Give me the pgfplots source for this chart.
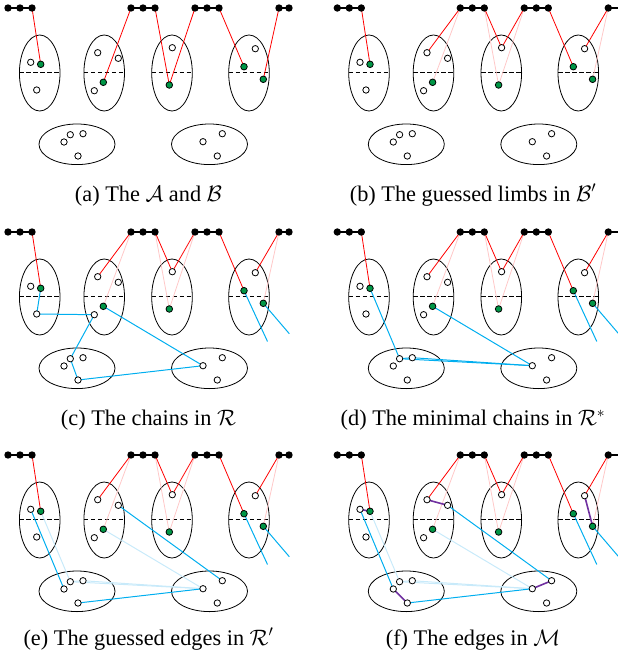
\RequirePackage{fix-cm}
\documentclass[border=0pt]{standalone}
\usepackage{fontspec}
\setmainfont{Liberation Serif}
\usepackage{pgfplots}
\pgfplotsset{compat=1.18}

\definecolor{redl}{RGB}{255,0,0}
\definecolor{redf}{RGB}{255,200,200}
\definecolor{bluel}{RGB}{0,174,239}
\definecolor{bluef}{RGB}{200,234,250}
\definecolor{purp}{RGB}{112,48,160}
\definecolor{grn}{RGB}{0,150,70}

% ellipse shaped marks (vertical groups and bottom groups)
\pgfdeclareplotmark{vell}{\pgfpathellipse{\pgfpointorigin}{\pgfqpoint{20.3bp}{0pt}}{\pgfqpoint{0pt}{38bp}}\pgfusepathqstroke}
\pgfdeclareplotmark{hell}{\pgfpathellipse{\pgfpointorigin}{\pgfqpoint{38bp}{0pt}}{\pgfqpoint{0pt}{20.3bp}}\pgfusepathqstroke}

\pgfplotsset{
  off/.style 2 args={x filter/.expression={x+#1}, y filter/.expression={y+#2}},
  rl/.style={redl, line width=0.8},
  rf/.style={redf, line width=0.8},
  bl/.style={bluel, line width=1},
  bf/.style={bluef, line width=1},
  pl/.style={purp, line width=1.6},
  dl/.style={black, line width=0.9, dash pattern=on 4.5bp off 2.5bp},
}

\newcommand{\ellipses}[1]{%
  \addplot[only marks, mark=vell, mark options={black, line width=0.8}, #1] coordinates {(39.7,73) (104.2,73) (172,73) (249,73)};
  \addplot[only marks, mark=hell, mark options={black, line width=0.8}, #1] coordinates {(77,144.3) (209.5,144.3)};
  \addplot[dl, #1] coordinates {(19.4,72.7) (60,72.7)};
  \addplot[dl, #1] coordinates {(83.9,72.7) (124.5,72.7)};
  \addplot[dl, #1] coordinates {(151.7,72.7) (192.3,72.7)};
  \addplot[dl, #1] coordinates {(228.7,72.7) (269.3,72.7)};
}
\newcommand{\redA}[1]{%
  \addplot[rl, #1] coordinates {(32,8) (40.7,64.3)};
  \addplot[rl, #1] coordinates {(131,8) (103.3,82.3)};
  \addplot[rl, #1] coordinates {(155,8) (169.3,85) (195,8)};
  \addplot[rl, #1] coordinates {(219,8) (244,66.7)};
  \addplot[rl, #1] coordinates {(279,8) (263.3,79.3)};
}
\newcommand{\redB}[1]{%
  \addplot[rf, #1] coordinates {(131,8) (103.3,82.3)};
  \addplot[rf, #1] coordinates {(155,8) (169.3,85) (195,8)};
  \addplot[rf, #1] coordinates {(279,8) (263.3,79.3)};
  \addplot[rl, #1] coordinates {(32,8) (40.7,64.3)};
  \addplot[rl, #1] coordinates {(131,8) (97.7,52.7)};
  \addplot[rl, #1] coordinates {(155,8) (172.3,47.7) (195,8)};
  \addplot[rl, #1] coordinates {(219,8) (244,66.7)};
  \addplot[rl, #1] coordinates {(279,8) (255.3,48.7)};
}
\newcommand{\blueout}[2]{%
  \addplot[#1, #2] coordinates {(244,66.7) (267.5,117.5)};
  \addplot[#1, #2] coordinates {(263.3,79.3) (289.3,109.7)};
}
\newcommand{\blueC}[1]{%
  \addplot[bl, #1] coordinates {(40.7,64.3) (36.7,90) (94.3,90.7) (70.3,134.7) (78,156) (203,141.7) (103.3,82.3)};
  \blueout{bl}{#1}
}
\newcommand{\minchain}[1]{%
  \addplot[#1] coordinates {(40.7,64.3) (70.3,134.7) (203,141.7) (103.3,82.3)};
  \addplot[#1] coordinates {(70.3,134.7) (83,133.7) (203,141.7)};
}
\newcommand{\blueD}[1]{%
  \minchain{bl, #1}
  \blueout{bl}{#1}
}
\newcommand{\blueE}[1]{%
  \minchain{bf, #1}
  \addplot[bl, #1] coordinates {(30.7,62.3) (64,142)};
  \addplot[bl, #1] coordinates {(118.3,58.3) (222.3,133.7)};
  \addplot[bl, #1] coordinates {(78,156) (203,141.7)};
  \blueout{bl}{#1}
}
\newcommand{\purpF}[1]{%
  \addplot[pl, #1] coordinates {(30.7,62.3) (40.7,64.3)};
  \addplot[pl, #1] coordinates {(97.7,52.7) (118.3,58.3)};
  \addplot[pl, #1] coordinates {(255.3,48.7) (263.3,79.3)};
  \addplot[pl, #1] coordinates {(64,142) (78,156)};
  \addplot[pl, #1] coordinates {(203,141.7) (222.3,133.7)};
}
\newcommand{\chains}[1]{%
  \addplot[black, line width=1.3, mark=*, mark size=3, #1] coordinates {(8,8) (20,8) (32,8)};
  \addplot[black, line width=1.3, mark=*, mark size=3, #1] coordinates {(131,8) (143,8) (155,8)};
  \addplot[black, line width=1.3, mark=*, mark size=3, #1] coordinates {(195,8) (207,8) (219,8)};
  \addplot[black, line width=1.3, mark=*, mark size=3, #1] coordinates {(279,8) (289,8)};
}
\newcommand{\points}[1]{%
  \addplot[only marks, mark=*, mark size=3.2, mark options={fill=white, draw=black, line width=0.8}, #1] coordinates {
    (30.7,62.3) (36.7,90)
    (97.7,52.7) (118.3,58.3) (94.3,90.7)
    (172.3,47.7) (255.3,48.7)
    (70.3,134.7) (83,133.7) (64,142) (78,156)
    (222.3,133.7) (203,141.7) (217.3,156)};
  \addplot[only marks, mark=*, mark size=3.3, mark options={fill=grn, draw=black, line width=0.8}, #1] coordinates {
    (40.7,64.3) (103.3,82.3) (169.3,85) (244,66.7) (263.3,79.3)};
}

\begin{document}
\begin{tikzpicture}
\begin{axis}[
  x=1bp, y=1bp, xmin=0, xmax=618, ymin=0, ymax=663, y dir=reverse,
  hide axis, clip marker paths=true, clip bounding box=upper bound,
]
\addplot[draw=none] coordinates {(0,0) (618,663)};
% (a)
\ellipses{off={0}{0}} \redA{off={0}{0}} \chains{off={0}{0}} \points{off={0}{0}}
% (b)
\ellipses{off={329.3}{0}} \redB{off={329.3}{0}} \chains{off={329.3}{0}} \points{off={329.3}{0}}
% (c)
\ellipses{off={0}{224}} \redB{off={0}{224}} \blueC{off={0}{224}} \chains{off={0}{224}} \points{off={0}{224}}
% (d)
\ellipses{off={329.3}{224}} \redB{off={329.3}{224}} \blueD{off={329.3}{224}} \chains{off={329.3}{224}} \points{off={329.3}{224}}
% (e)
\ellipses{off={0}{447}} \redB{off={0}{447}} \blueE{off={0}{447}} \chains{off={0}{447}} \points{off={0}{447}}
% (f)
\ellipses{off={329.3}{447}} \redB{off={329.3}{447}} \blueE{off={329.3}{447}} \purpF{off={329.3}{447}} \chains{off={329.3}{447}} \points{off={329.3}{447}}

\node[anchor=base, font=\fontsize{22.4}{26}\selectfont] at (axis cs:148.5,201) {(a) The $\mathcal{A}$ and $\mathcal{B}$};
\node[anchor=base, font=\fontsize{22.4}{26}\selectfont] at (axis cs:473,201) {(b) The guessed limbs in $\mathcal{B}'$};
\node[anchor=base, font=\fontsize{22.4}{26}\selectfont] at (axis cs:148.5,425.5) {(c) The chains in $\mathcal{R}$};
\node[anchor=base, font=\fontsize{22.4}{26}\selectfont] at (axis cs:473,425.5) {(d) The minimal chains in $\mathcal{R}^*$};
\node[anchor=base, font=\fontsize{22.4}{26}\selectfont] at (axis cs:148.5,645) {(e) The guessed edges in $\mathcal{R}'$};
\node[anchor=base, font=\fontsize{22.4}{26}\selectfont] at (axis cs:473,645) {(f) The edges in $\mathcal{M}$};
\end{axis}
\end{tikzpicture}
\end{document}
